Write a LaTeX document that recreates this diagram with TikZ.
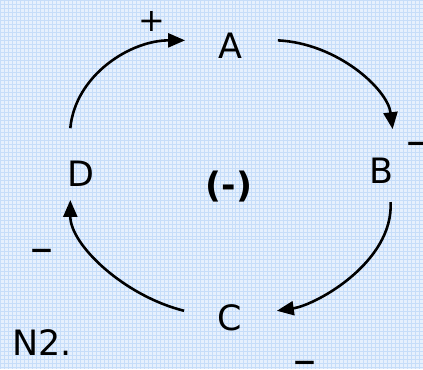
\documentclass[tikz,border=0pt]{standalone}
\usepackage{fontspec}
\setmainfont{DejaVu Sans}
\usetikzlibrary{arrows.meta}
\definecolor{bgfill}{RGB}{230,240,253}
\definecolor{bggrid}{RGB}{198,221,249}
\begin{document}
\begin{tikzpicture}[x=1pt,y=-1pt,
  lbl/.style={font=\fontsize{35}{35}\selectfont, inner sep=0pt},
  sgn/.style={font=\fontsize{32}{32}\selectfont, inner sep=0pt},
  dsh/.style={font=\fontsize{46}{46}\selectfont, inner sep=0pt},
  arr/.style={line width=2.6pt, -{Triangle[length=17pt,width=14pt]}}]
\fill[bgfill] (0,0) rectangle (423,369);
\draw[bggrid, line width=0.9pt, step=4pt] (0,0) grid (423,369);
\useasboundingbox (0,0) rectangle (423,369);
\node[lbl] (A) at (230,45) {A};
\node[lbl] (B) at (382,171) {B};
\node[lbl] (C) at (230,318) {C};
\node[lbl] (D) at (81,174) {D};
\node[font=\bfseries\fontsize{35}{35}\selectfont, inner sep=0pt] (loop) at (229,186) {(-)};
\node[sgn] (plus) at (152,21) {+};
\node[dsh, anchor=west] (mB) at (407,149) {–};
\node[dsh] (mD) at (42,256) {–};
\node[dsh] (mC) at (305,369) {–};
\node[lbl] (n2) at (42,343) {N2.};
\draw[arr] ([shift={(-11,-46)}]D.center) .. controls +(5,-53) and +(-55,0) .. ([shift={(-45,-5)}]A.center);
\draw[arr] ([shift={(48,-5)}]A.center) .. controls +(60,3) and +(-5,-40) .. ([shift={(11,-42)}]B.center);
\draw[arr] ([shift={(9,31)}]B.center) .. controls +(3,60) and +(40,-6) .. ([shift={(47,-7)}]C.center);
\draw[arr] ([shift={(-46,-7)}]C.center) .. controls +(-60,-15) and +(0,45) .. ([shift={(-11,26)}]D.center);
\end{tikzpicture}
\end{document}
